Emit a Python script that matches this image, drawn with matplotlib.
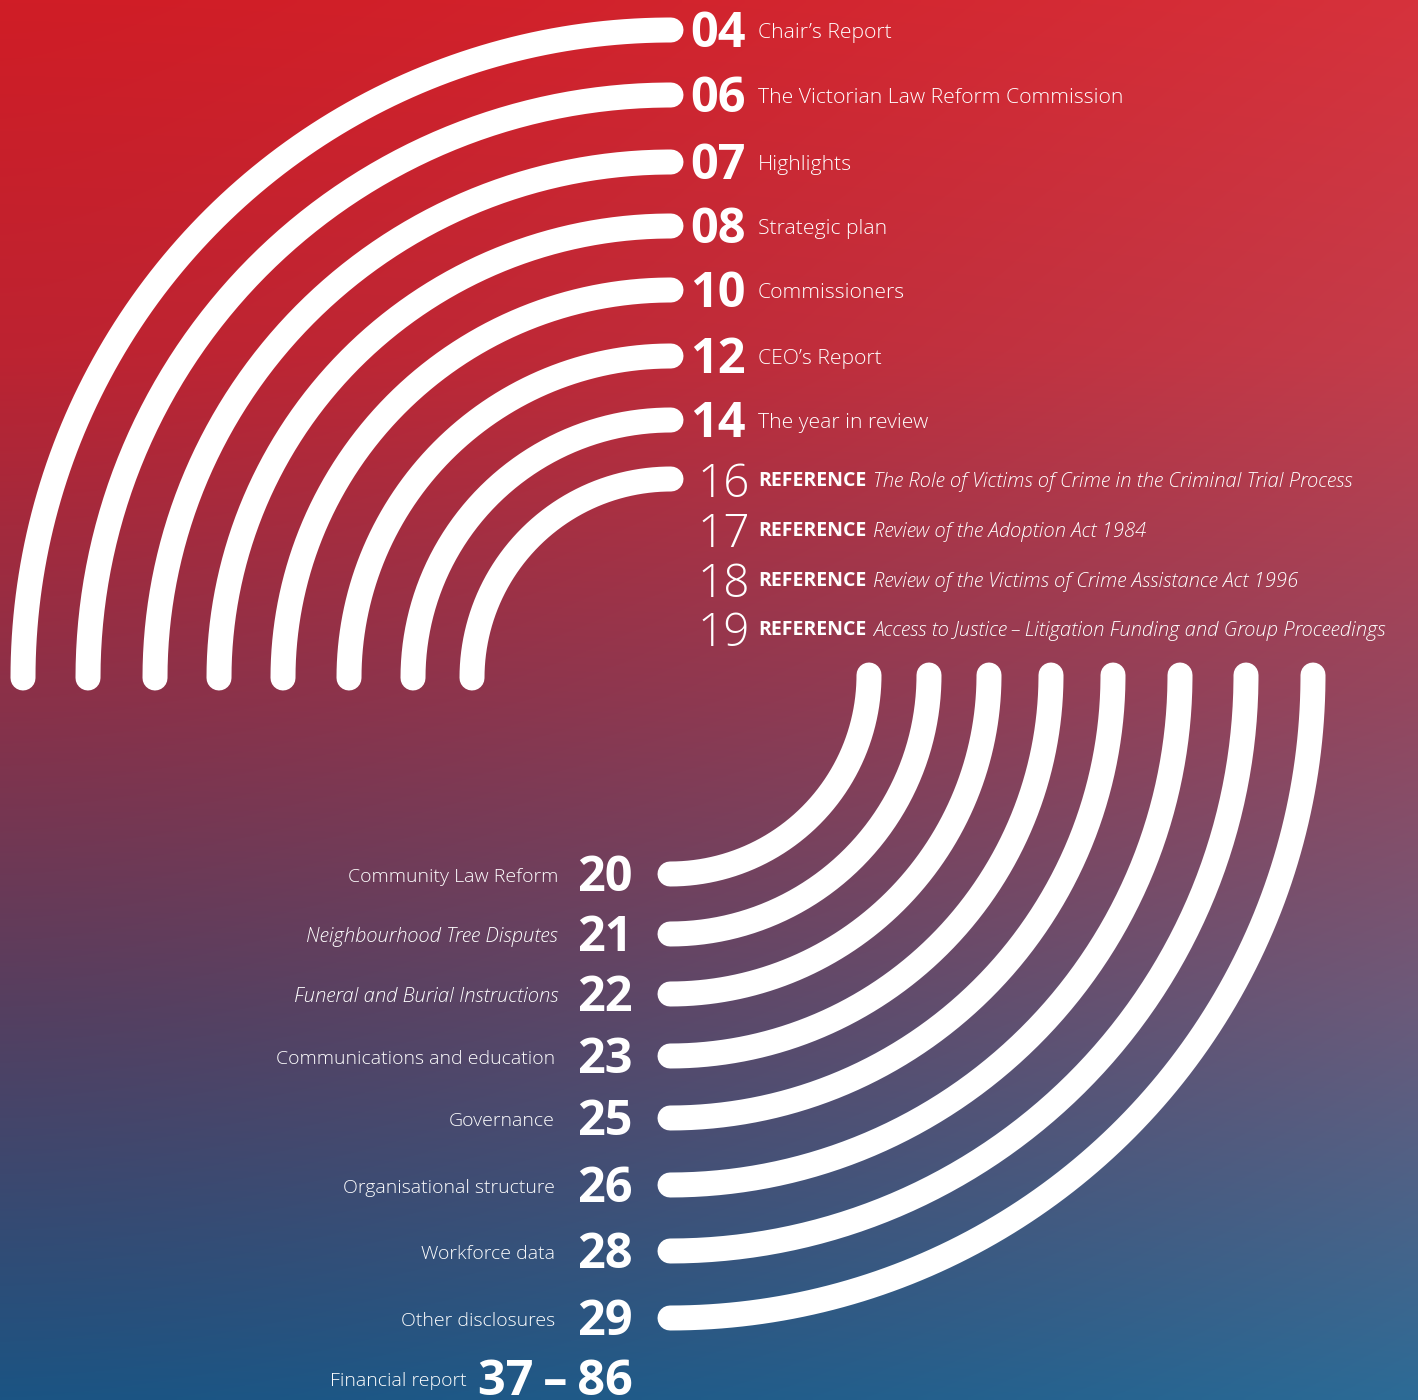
import numpy as np
import matplotlib.pyplot as plt
from matplotlib.colors import to_rgb

# contents, top half
top_pages = ['04', '06', '07', '08', '10', '12', '14']
top_titles = ['Chair’s Report', 'The Victorian Law Reform Commission', 'Highlights',
              'Strategic plan', 'Commissioners', 'CEO’s Report', 'The year in review']
ref_pages = ['16', '17', '18', '19']
ref_titles = ['The Role of Victims of Crime in the Criminal Trial Process',
              'Review of the Adoption Act 1984',
              'Review of the Victims of Crime Assistance Act 1996',
              'Access to Justice\u2009–\u2009Litigation Funding and Group Proceedings']

# contents, bottom half
bottom_pages = ['20', '21', '22', '23', '25', '26', '28', '29', '37\u2009–\u200986']
bottom_titles = ['Community Law Reform', 'Neighbourhood Tree Disputes',
                 'Funeral and Burial Instructions', 'Communications and education',
                 'Governance', 'Organisational structure', 'Workforce data',
                 'Other disclosures', 'Financial report']
bottom_italic = [False, True, True, False, False, False, False, False, False]

# layout (pixels, y down)
W, H = 1418, 1400
top_y = [30, 95, 162, 226, 290, 356, 420]
ref_y = [479, 529, 579, 628]
bottom_y = [874, 934, 994, 1056, 1118, 1185, 1251, 1318, 1378]
label_right = [558, 558, 558, 555, 555, 555, 555, 555, 467]
top_center = (671, 678)
bottom_center = (670, 675)
FONT = 'Open Sans'

fig = plt.figure(figsize=(W / 100, H / 100), dpi=100)
ax = fig.add_axes([0, 0, 1, 1])
ax.set_xlim(0, W)
ax.set_ylim(H, 0)
ax.axis('off')

# background gradient: red at the top, purple middle, blue at the bottom
stops_y = [0.0, 0.25, 0.5, 0.72, 1.0]
left_cols = ['#d01d26', '#bd2331', '#8a3149', '#553f60', '#1b5483']
right_cols = ['#d6323c', '#c43c4a', '#95475f', '#6b5a7a', '#2c6b96']
ny, nx = 280, 284
yy = np.linspace(0, 1, ny)
xx = np.linspace(0, 1, nx)
img = np.zeros((ny, nx, 3))
for c in range(3):
    lcol = np.interp(yy, stops_y, [to_rgb(k)[c] for k in left_cols])
    rcol = np.interp(yy, stops_y, [to_rgb(k)[c] for k in right_cols])
    img[:, :, c] = lcol[:, None] * (1 - xx[None, :] ** 1.5) + rcol[:, None] * xx[None, :] ** 1.5
ax.imshow(img, extent=(0, W, H, 0), aspect='auto', interpolation='bilinear', zorder=0)

t = np.linspace(0, np.pi / 2, 200)

# top arcs: quarter circles from the left edge up to each row
cx, cy = top_center
for y in top_y + ref_y[:1]:
    r = cy - y
    ax.plot(cx - r * np.cos(t), cy - r * np.sin(t), color='white', lw=18,
            solid_capstyle='round', zorder=2)

# bottom arcs: quarter circles from each row round to the top right
cx, cy = bottom_center
for y in bottom_y[:8]:
    r = y - cy
    ax.plot(cx + r * np.sin(t), cy + r * np.cos(t), color='white', lw=18,
            solid_capstyle='round', zorder=2)

# top texts
for page, title, y in zip(top_pages, top_titles, top_y):
    ax.text(690, y + 17, page, color='white', fontsize=35, fontweight='bold',
            family=FONT, ha='left', va='baseline')
    ax.text(758, y + 8, title, color='white', fontsize=15.2, fontweight='light',
            family=FONT, ha='left', va='baseline')

for page, title, y in zip(ref_pages, ref_titles, ref_y):
    ax.text(697, y + 18, page, color='white', fontsize=33, fontweight='light',
            family=FONT, ha='left', va='baseline')
    ax.text(758, y + 7, 'REFERENCE', color='white', fontsize=14, fontweight='bold',
            family=FONT, ha='left', va='baseline')
    ax.text(873, y + 8, title, color='white', fontsize=14.6, fontweight='light',
            style='italic', family=FONT, ha='left', va='baseline')

# bottom texts
for page, title, ital, y, right in zip(bottom_pages, bottom_titles, bottom_italic,
                                       bottom_y, label_right):
    ax.text(633, y + 17, page, color='white', fontsize=35, fontweight='bold',
            family=FONT, ha='right', va='baseline')
    ax.text(right, y + 8, title, color='white', fontsize=14.6 if ital else 14.0,
            fontweight='light', style='italic' if ital else 'normal', family=FONT,
            ha='right', va='baseline')

fig.savefig('out.png', dpi=100)
